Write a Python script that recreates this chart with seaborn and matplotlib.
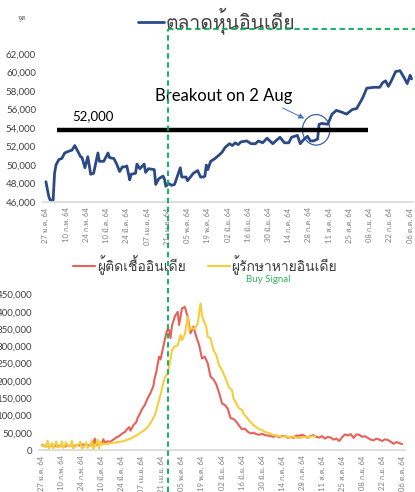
import matplotlib
matplotlib.use("Agg")
import matplotlib.pyplot as plt
import pandas as pd
import seaborn as sns
from matplotlib import font_manager
from matplotlib.ft2font import FT2Font
from matplotlib.lines import Line2D
from matplotlib.patches import Ellipse

sns.set_theme(style="white")


def find_thai_font():
    """Return the first installed family that has Thai glyphs"""
    for f in font_manager.fontManager.ttflist:
        try:
            if 0x0E15 in FT2Font(f.fname).get_charmap():
                return f.name
        except Exception:
            continue
    return None


thai = find_thai_font()
plt.rcParams["font.family"] = ["Lato"] + ([thai] if thai else []) + ["DejaVu Sans"]

# x axis: days counted from 27 Jan 2021, one label every two weeks
tick_days = list(range(0, 253, 14))
tick_labels = ["27 ม.ค. 64", "10 ก.พ. 64", "24 ก.พ. 64", "10 มี.ค. 64", "24 มี.ค. 64",
               "07 เม.ย. 64", "21 เม.ย. 64", "05 พ.ค. 64", "19 พ.ค. 64", "02 มิ.ย. 64",
               "16 มิ.ย. 64", "30 มิ.ย. 64", "14 ก.ค. 64", "28 ก.ค. 64", "11 ส.ค. 64",
               "25 ส.ค. 64", "08 ก.ย. 64", "22 ก.ย. 64", "06 ต.ค. 64"]

# Indian stock index (points)
stock_day = [0, 2, 3, 5, 6, 7, 9, 11, 13, 16, 18, 20, 21, 24, 25, 27, 29, 31, 33, 36,
             37, 40, 43, 44, 47, 49, 51, 53, 55, 56, 58, 59, 62, 63, 65, 68, 69, 71, 75, 76,
             78, 81, 82, 83, 85, 87, 89, 91, 93, 94, 97, 98, 101, 102, 105, 107, 109, 110, 111, 112,
             114, 117, 120, 122, 124, 127, 129, 131, 133, 135, 139, 142, 145, 147, 150, 153, 157, 159, 162, 165,
             168, 170, 174, 176, 178, 181, 183, 185, 188, 189, 191, 195, 198, 201, 205, 208, 212, 215, 219, 222,
             227, 231, 233, 235, 237, 239, 242, 245, 248, 250, 252, 253]
stock_pts = [48200, 46600, 46200, 46200, 49100, 50000, 50600, 50700, 51300, 51500,
             51600, 52100, 51800, 50900, 50800, 49700, 50900, 49000, 49100, 51300,
             50400, 50400, 51300, 50800, 50700, 50100, 49300, 49800, 49800, 49900,
             48400, 49000, 49100, 50100, 49600, 50100, 49200, 49600, 49500, 47900,
             48500, 48800, 48500, 47700, 48000, 47800, 47900, 48800, 49700, 48700,
             48700, 48300, 48900, 49100, 49400, 48700, 48700, 48800, 50000, 49500,
             50400, 50700, 51100, 51400, 51900, 52300, 52100, 52400, 52200, 52500,
             52600, 52300, 52300, 52600, 52400, 52900, 52300, 52600, 53000, 52400,
             52400, 53000, 53200, 52300, 52700, 53100, 52600, 52600, 52800, 54400,
             54500, 54400, 55500, 55900, 55700, 55500, 56000, 56100, 57200, 58300,
             58400, 58400, 58900, 59100, 58500, 59100, 60100, 60200, 59400, 58800,
             59700, 59300]

# daily new cases in India (thousands)
case_day = [0, 2, 4, 6, 8, 10, 12, 14, 16, 18, 20, 22, 24, 26, 28, 30, 32, 34, 36, 37,
            38, 40, 42, 43, 44, 46, 48, 50, 52, 54, 56, 58, 60, 61, 62, 64, 66, 67, 68, 70,
            72, 74, 76, 78, 79, 80, 82, 83, 85, 87, 88, 89, 90, 91, 93, 95, 96, 98, 100, 102,
            104, 106, 108, 110, 112, 114, 116, 118, 120, 122, 124, 126, 128, 130, 132, 134, 136, 138, 140, 142,
            144, 146, 148, 150, 152, 154, 156, 158, 160, 162, 164, 166, 168, 170, 172, 174, 176, 178, 180, 182,
            184, 186, 188, 190, 192, 194, 196, 198, 200, 202, 204, 206, 208, 210, 212, 214, 216, 218, 220, 222,
            224, 226, 228, 230, 232, 234, 236, 238, 240, 242, 244, 246, 248, 250, 252]
case_k = [14, 12, 13, 11, 12, 11, 12, 11, 10, 12, 13, 11, 14, 13, 16, 15, 14, 13, 16, 33,
          14, 17, 20, 31, 22, 25, 24, 30, 36, 40, 47, 52, 62, 66, 56, 72, 80, 93, 100, 118,
          130, 150, 165, 185, 210, 225, 270, 262, 300, 338, 350, 347, 324, 360, 386, 400, 362, 410, 414, 386,
          338, 357, 328, 304, 265, 270, 251, 212, 205, 190, 165, 135, 130, 120, 92, 90, 82, 70, 60, 62,
          53, 48, 50, 46, 44, 47, 43, 42, 40, 38, 42, 37, 40, 41, 35, 38, 35, 42, 41, 44,
          41, 35, 41, 43, 38, 36, 40, 33, 38, 36, 30, 33, 26, 37, 45, 42, 46, 35, 45, 44,
          38, 40, 35, 30, 28, 33, 30, 26, 31, 29, 24, 18, 23, 20, 17]

# daily recoveries in India (thousands)
recov_day = [0, 2, 3, 4, 5, 7, 8, 10, 11, 13, 14, 15, 17, 18, 20, 21, 22, 24, 25, 27,
             28, 30, 31, 32, 34, 35, 36, 38, 39, 40, 41, 42, 44, 46, 48, 50, 52, 54, 56, 58,
             60, 62, 64, 66, 68, 70, 72, 74, 75, 77, 79, 80, 81, 83, 85, 86, 88, 90, 91, 93,
             95, 97, 98, 100, 102, 103, 105, 107, 109, 111, 112, 113, 115, 116, 118, 120, 122, 124, 126, 128,
             129, 131, 133, 134, 136, 138, 140, 141, 143, 145, 148, 150, 152, 154, 156, 158, 160, 162, 164, 166,
             168, 170, 172, 174, 176, 178, 180, 182, 184, 186, 188, 191]
recov_k = [12, 14, 8, 27, 5, 20, 4, 25, 8, 10, 25, 6, 22, 12, 10, 26, 4, 14, 12, 24,
           3, 12, 22, 6, 16, 28, 2, 18, 30, 4, 24, 16, 18, 17, 20, 21, 22, 23, 25, 27,
           30, 33, 37, 42, 47, 53, 58, 66, 72, 85, 101, 115, 130, 160, 195, 210, 222, 262, 289, 300,
           303, 333, 318, 335, 386, 347, 353, 350, 367, 424, 390, 376, 357, 328, 323, 289, 275, 245, 231, 212,
           202, 180, 174, 150, 135, 120, 116, 105, 96, 85, 72, 66, 60, 58, 52, 50, 47, 43, 42, 40,
           38, 40, 37, 39, 38, 36, 34, 37, 38, 36, 39, 40]

stock_df = pd.DataFrame({"day": stock_day, "pts": stock_pts})
case_df = pd.DataFrame({"day": case_day, "value": [v * 1000 for v in case_k]})
recov_df = pd.DataFrame({"day": recov_day, "value": [v * 1000 for v in recov_k]})

W, H = 415, 492
fig = plt.figure(figsize=(W / 100, H / 100), dpi=100)
ax1 = fig.add_axes([43 / W, 1 - 202 / H, 370 / W, 148 / H])
ax2 = fig.add_axes([39 / W, 1 - 450 / H, 366 / W, 155.5 / H])

BLUE = "#2b4a85"
RED = "#e8605a"
YELLOW = "#f6cd3c"
GREEN = "#00b050"
GREY = "#595959"

# top chart: stock index
sns.lineplot(data=stock_df, x="day", y="pts", ax=ax1, color=BLUE, lw=2.0,
             label="ตลาดหุ้นอินเดีย")
ax1.set_ylim(46000, 62000)
ax1.set_yticks(range(46000, 62001, 2000))
ax1.yaxis.set_major_formatter(matplotlib.ticker.StrMethodFormatter("{x:,.0f}"))

ax1.hlines(53750, 8, 223, color="black", lw=3.2)
ax1.text(32.6, 55300, "52,000", ha="center", va="center", fontsize=9.5, color="black")
ax1.text(123, 57450, "Breakout on 2 Aug", ha="center", va="center", fontsize=12, color="black")
ax1.annotate("", xy=(180.5, 54900), xytext=(162, 56300),
             arrowprops=dict(arrowstyle="-|>", color="#4472c4", lw=0.7, mutation_scale=8))
ax1.add_patch(Ellipse((187, 53800), width=19, height=3300, fill=False,
                      edgecolor="#3a5fa8", lw=0.9))

# bottom chart: cases and recoveries
sns.lineplot(data=case_df, x="day", y="value", ax=ax2, color=RED, lw=1.5,
             label="ผู้ติดเชื้ออินเดีย")
sns.lineplot(data=recov_df, x="day", y="value", ax=ax2, color=YELLOW, lw=1.5,
             label="ผู้รักษาหายอินเดีย")
ax2.set_ylim(0, 450000)
ax2.set_yticks(range(0, 450001, 50000))
ax2.yaxis.set_major_formatter(matplotlib.ticker.StrMethodFormatter("{x:,.0f}"))

for ax in (ax1, ax2):
    ax.set_xlim(-2, 254)
    ax.set_xticks(tick_days)
    ax.set_xticklabels(tick_labels, rotation=90, fontsize=5.5, color="#7f7f7f")
    ax.tick_params(axis="y", labelsize=7, labelcolor="#404040", length=0, pad=5)
    ax.tick_params(axis="x", length=0, pad=4)
    ax.set_xlabel("")
    ax.set_ylabel("")
    for side in ("top", "right", "left"):
        ax.spines[side].set_visible(False)
    ax.spines["bottom"].set_color("#d9d9d9")
    ax.spines["bottom"].set_linewidth(1.2)
    ax.grid(False)
    ax.set_facecolor("none")

ax1.legend(loc="center", bbox_to_anchor=(217 / W, 1 - 21 / H), bbox_transform=fig.transFigure,
           frameon=False, fontsize=14, handlelength=1.3, handletextpad=0.12, labelcolor="#404040")
ax2.legend(loc="center", bbox_to_anchor=(205 / W, 1 - 265 / H), bbox_transform=fig.transFigure,
           ncol=2, frameon=False, fontsize=10, handlelength=1.6, handletextpad=0.12,
           columnspacing=1.6, labelcolor="#404040")

# buy signal marker spanning both charts
fig.add_artist(Line2D([168 / W, 168 / W], [0, 1 - 29 / H], transform=fig.transFigure,
                      color=GREEN, ls=(0, (3, 2)), lw=1.3))
fig.add_artist(Line2D([168 / W, 1], [1 - 29 / H, 1 - 29 / H], transform=fig.transFigure,
                      color=GREEN, ls=(0, (3, 2)), lw=1.3))
fig.text(268 / W, 1 - 280 / H, "Buy Signal", color="#33b35a", fontsize=7, ha="center", va="center")
fig.text(22 / W, 1 - 18 / H, "จุด", color=GREY, fontsize=5, ha="center", va="center")

fig.savefig("out.png", dpi=100)
